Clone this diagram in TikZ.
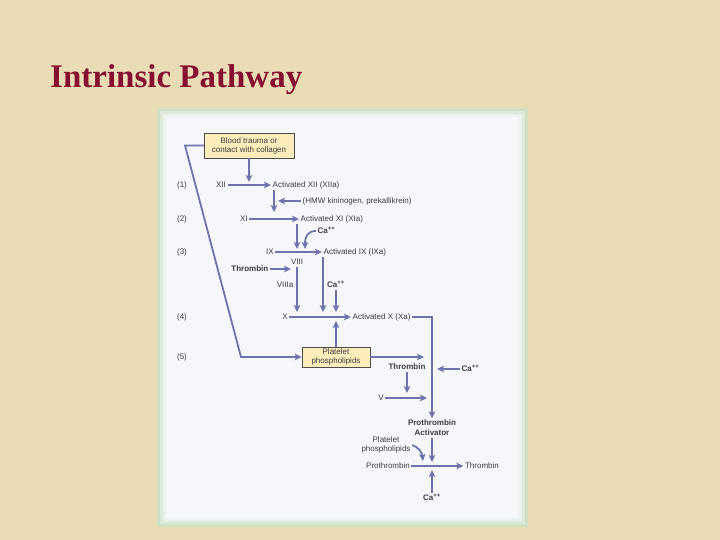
\documentclass[tikz,border=0pt]{standalone}
\usepackage{fontspec}
\setmainfont{Liberation Sans}
\newfontfamily\titlefont{Liberation Serif}
\usetikzlibrary{arrows.meta}

\definecolor{parchment}{RGB}{234,220,181}
\definecolor{titlered}{RGB}{134,14,48}
\definecolor{panelrim}{RGB}{206,223,194}
\definecolor{panelface}{RGB}{245,247,251}
\definecolor{flowblue}{RGB}{110,115,174}
\definecolor{boxfill}{RGB}{252,237,186}
\definecolor{labelgray}{RGB}{60,60,66}

\begin{document}
\begin{tikzpicture}[x=1pt, y=-1pt,
    lbl/.style={font=\fontsize{8}{9.5}\selectfont, text=labelgray, inner sep=1.5pt, text height=6pt, text depth=1.5pt},
    boldlbl/.style={lbl, font=\fontsize{8}{9.5}\selectfont\bfseries},
    twoline/.style={font=\fontsize{8}{9}\selectfont, text=labelgray, align=center, inner sep=1.5pt},
    boxnode/.style={draw=black!70, line width=0.5pt, fill=boxfill, font=\fontsize{8}{9}\selectfont, text=labelgray, align=center, inner sep=0pt},
    flow/.style={draw=flowblue, line width=1.8pt, -{Stealth[length=7pt, width=6.5pt, inset=1.5pt]}}]
  \useasboundingbox (0,0) rectangle (720,540);

  % background and panel
  \fill[parchment] (0,0) rectangle (720,540);
  \fill[panelrim] (157,108) rectangle (528,527);
  \fill[panelrim!60!panelface] (160,111) rectangle (525,524);
  \fill[panelrim!25!panelface] (163,114) rectangle (522,521);
  \fill[panelface] (166,117) rectangle (519,518);

  \node[anchor=base west, font=\titlefont\fontsize{33}{36}\selectfont\bfseries, text=titlered, inner sep=0pt] (title) at (50,88) {Intrinsic Pathway};

  \foreach \n/\y in {1/185, 2/219, 3/252, 4/317, 5/357}
    \node[lbl] (step\n) at (182,\y) {(\n)};

  \node[boxnode, minimum width=90pt, minimum height=25pt] (trauma) at (249,145.5) {Blood trauma or\\contact with collagen};

  \node[lbl] (xii) at (221,185) {XII};
  \node[lbl, anchor=west] (axii) at (271,185) {Activated XII (XIIa)};
  \node[lbl, anchor=west] (hmw) at (301,201) {(HMW kininogen, prekallikrein)};
  \node[lbl] (xi) at (244,219) {XI};
  \node[lbl, anchor=west] (axi) at (299,219) {Activated XI (XIa)};
  \node[boldlbl, anchor=west] (caA) at (316,231) {Ca\textsuperscript{++}};
  \node[lbl] (ix) at (270,252) {IX};
  \node[lbl, anchor=west] (aix) at (322,252) {Activated IX (IXa)};
  \node[lbl] (viii) at (297,262) {VIII};
  \node[boldlbl, anchor=east] (thrA) at (270,269) {Thrombin};
  \node[lbl, anchor=east] (viiia) at (295,285) {VIIIa};
  \node[boldlbl] (caB) at (336,285) {Ca\textsuperscript{++}};
  \node[lbl] (x) at (285,317) {X};
  \node[lbl, anchor=west] (ax) at (351,317) {Activated X (Xa)};
  \node[boxnode, minimum width=68pt, minimum height=20pt] (plat) at (336,357) {Platelet\\phospholipids};
  \node[boldlbl] (thrB) at (407,367) {Thrombin};
  \node[boldlbl, anchor=west] (caC) at (460,369) {Ca\textsuperscript{++}};
  \node[lbl] (v) at (381,398) {V};
  \node[twoline, font=\fontsize{8}{10}\selectfont\bfseries] (pa) at (432,428) {Prothrombin\\Activator};
  \node[twoline] (pp) at (386,445) {Platelet\\phospholipids};
  \node[lbl] (pt) at (388,466) {Prothrombin};
  \node[lbl] (thrC) at (482,466) {Thrombin};
  \node[boldlbl] (caD) at (432,498) {Ca\textsuperscript{++}};

  % free ends of the arrows
  \coordinate (jXII) at (249,182);
  \coordinate (jXI) at (274,212);
  \coordinate (jHMW) at (278,201);
  \coordinate (jIX) at (297,249);
  \coordinate (jCaA) at (305,249);
  \coordinate (jThr) at (291,269);
  \coordinate (jX) at (297,312);
  \coordinate (jPlat) at (336,321);
  \coordinate (bend) at (185,145.5);
  \coordinate (knee) at (241,357);
  \coordinate (jV) at (424,357);
  \coordinate (jCaC) at (437,369);
  \coordinate (jThrB) at (407,393);
  \coordinate (jVin) at (427,398);
  \coordinate (jPA) at (432,462);
  \coordinate (jPP) at (423,461);
  \coordinate (jCaD) at (432,470);

  \draw[flow] (trauma) -- (jXII);
  \draw[flow] (xii) -- (axii);
  \draw[flow] ([xshift=3pt]axii.south west) -- (jXI);
  \draw[flow] (hmw) -- (jHMW);
  \draw[flow] (xi) -- (axi);
  \draw[flow] (jIX |- axi.south) -- (jIX);
  \draw[flow] (caA.west) .. controls (308,231) and (305,236) .. (jCaA);
  \draw[flow] (ix) -- (aix);
  \draw[flow] (thrA) -- (jThr);
  \draw[flow] (viii) -- (jX);
  \draw[flow] ([xshift=1pt]aix.south west) -- ([xshift=1pt]aix.south west |- jX);
  \draw[flow] (caB) -- (caB |- jX);
  \draw[flow] (x) -- (ax);
  \draw[flow] (plat) -- (jPlat);
  \draw[flow] (trauma.west) -- (bend) -- (knee) -- (plat);
  \draw[flow] (plat) -- (jV);
  \draw[flow] (ax) -| (pa);
  \draw[flow] (caC) -- (jCaC);
  \draw[flow] (thrB) -- (jThrB);
  \draw[flow] (v) -- (jVin);
  \draw[flow] (pa) -- (jPA);
  \draw[flow] (pp.east) .. controls (418,447) and (422,452) .. (jPP);
  \draw[flow] (pt) -- (thrC);
  \draw[flow] (caD) -- (jCaD);
\end{tikzpicture}
\end{document}
